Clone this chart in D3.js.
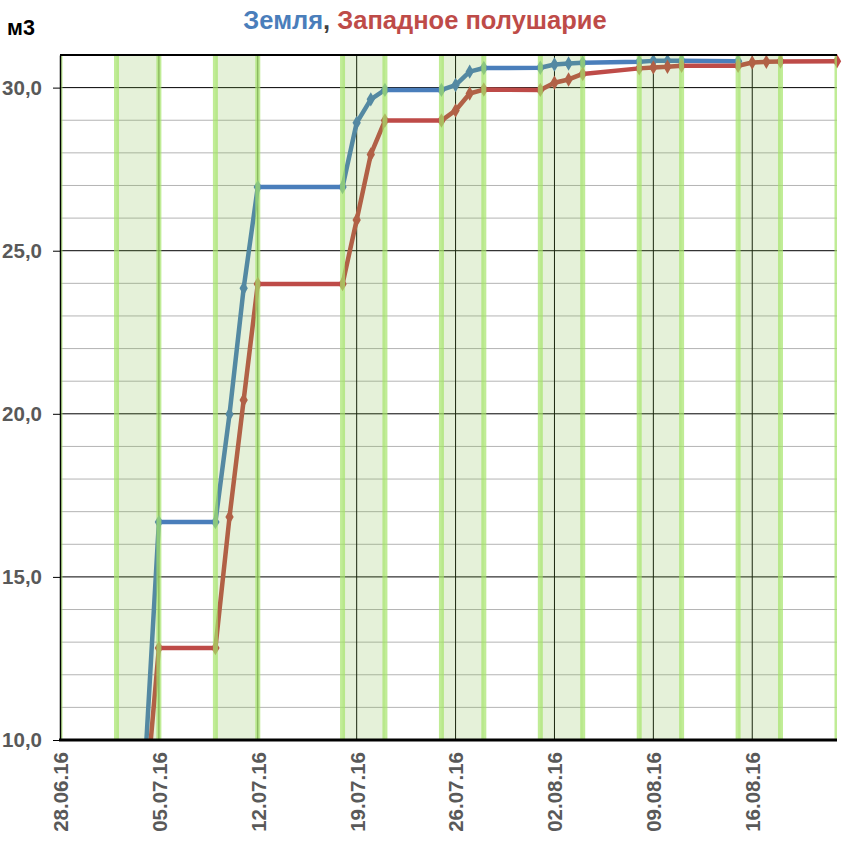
<!DOCTYPE html>
<html lang="ru">
<head>
<meta charset="UTF-8">
<title>Земля, Западное полушарие</title>
<script src="https://d3js.org/d3.v7.min.js"></script>
<style>
  body { margin: 0; background: #fff; }
  svg { display: block; font-family: "Liberation Sans", Arial, sans-serif; }
  .tick text { font-weight: bold; fill: #595959; }
</style>
</head>
<body>
<svg id="chart" width="845" height="844"></svg>
<script>
// data
const dates = ["04.07.16","05.07.16","09.07.16","10.07.16","11.07.16","12.07.16",
  "18.07.16","19.07.16","20.07.16","21.07.16","25.07.16","26.07.16","27.07.16","28.07.16",
  "01.08.16","02.08.16","03.08.16","04.08.16","08.08.16","09.08.16","10.08.16","11.08.16",
  "15.08.16","16.08.16","17.08.16","18.08.16","22.08.16"];
const earth = [9.1,16.68,16.68,19.99,23.85,26.95,
  26.95,28.92,29.64,29.93,29.93,30.08,30.49,30.6,
  30.61,30.71,30.74,30.76,30.79,30.82,30.82,30.82,
  30.81,null,null,null,null];
const west = [7.9,12.82,12.82,16.84,20.42,23.98,
  23.98,25.94,27.95,28.99,28.99,29.3,29.82,29.94,
  29.93,30.15,30.25,30.42,30.59,30.62,30.64,30.67,
  30.67,30.77,30.79,30.8,30.81];
const bandStart = ["25.06.16","02.07.16","09.07.16","18.07.16","25.07.16","01.08.16","08.08.16","15.08.16","22.08.16"];
const bandEnd   = ["28.06.16","05.07.16","12.07.16","21.07.16","28.07.16","04.08.16","11.08.16","18.08.16","25.08.16"];
const xTicks = ["28.06.16","05.07.16","12.07.16","19.07.16","26.07.16","02.08.16","09.08.16","16.08.16"];
const yTicks = [10, 15, 20, 25, 30];

const parse = d3.timeParse("%d.%m.%y");
const svg = d3.select("#chart");
const pL = 60, pR = 837, pT = 55, pB = 740;

const x = d3.scaleTime()
  .domain([parse("28.06.16"), parse("22.08.16")])
  .range([pL, pR]);
const y = d3.scaleLinear().domain([10, 31]).range([pB, pT]);

const comma = d3.formatLocale({decimal: ",", thousands: " ", grouping: [3], currency: ["", ""]}).format(".1f");

svg.append("defs").append("clipPath").attr("id", "plot")
  .append("rect").attr("x", pL).attr("y", pT).attr("width", pR - pL).attr("height", pB - pT);

// grid
const grid = svg.append("g");
grid.selectAll("line.minor")
  .data(d3.range(11, 32).filter(v => v % 5 !== 0))
  .join("line")
  .attr("x1", pL).attr("x2", pR)
  .attr("y1", d => y(d)).attr("y2", d => y(d))
  .attr("stroke", "#b4b4b4").attr("stroke-width", 1);
grid.selectAll("line.major")
  .data(yTicks.slice(1))
  .join("line")
  .attr("x1", pL).attr("x2", pR)
  .attr("y1", d => y(d)).attr("y2", d => y(d))
  .attr("stroke", "#000").attr("stroke-width", 1);
grid.selectAll("line.vert")
  .data(xTicks.slice(1))
  .join("line")
  .attr("x1", d => x(parse(d))).attr("x2", d => x(parse(d)))
  .attr("y1", pT).attr("y2", pB)
  .attr("stroke", "#000").attr("stroke-width", 1);

// series
const plot = svg.append("g").attr("clip-path", "url(#plot)");
const marks = svg.append("g");
const series = [
  {values: earth, color: "#4a7ebb"},
  {values: west, color: "#be4b48"}
];
const line = d3.line()
  .defined(d => d.v != null)
  .x(d => x(d.date)).y(d => y(d.v));
const diamond = d3.symbol().type(d3.symbolDiamond).size(60);

series.forEach(s => {
  const pts = dates.map((d, i) => ({date: parse(d), v: s.values[i]}));
  plot.append("path")
    .datum(pts)
    .attr("d", line)
    .attr("fill", "none")
    .attr("stroke", s.color)
    .attr("stroke-width", 4.5)
    .attr("stroke-linejoin", "round");
  marks.selectAll(null)
    .data(pts.filter(p => p.v != null && p.v >= 10))
    .join("path")
    .attr("d", diamond)
    .attr("transform", p => `translate(${x(p.date)},${y(p.v)})`)
    .attr("fill", s.color);
});

// green bands on top of lines
const bands = svg.append("g").attr("clip-path", "url(#plot)");
const bandData = bandStart.map((d, i) => ({x0: x(parse(d)), x1: x(parse(bandEnd[i]))}));
bands.selectAll("rect")
  .data(bandData)
  .join("rect")
  .attr("x", d => d.x0).attr("width", d => d.x1 - d.x0)
  .attr("y", pT).attr("height", pB - pT)
  .attr("fill", "rgba(125,185,65,0.2)");
bands.selectAll("line")
  .data(bandData.flatMap(d => [d.x0, d.x1]))
  .join("line")
  .attr("x1", d => d).attr("x2", d => d)
  .attr("y1", pT).attr("y2", pB)
  .attr("stroke", "rgba(165,228,105,0.7)")
  .attr("stroke-width", 5);

// axes
const yAxis = svg.append("g")
  .attr("transform", `translate(${pL},0)`)
  .call(d3.axisLeft(y).tickValues(yTicks).tickSize(7).tickSizeOuter(0).tickFormat(comma).tickPadding(11));
yAxis.select(".domain").attr("stroke", "#000").attr("stroke-width", 1.5);
yAxis.selectAll(".tick line").attr("stroke", "#000");
yAxis.selectAll(".tick text").style("font-size", "20.5px");

const xAxis = svg.append("g")
  .attr("transform", `translate(0,${pB})`)
  .call(d3.axisBottom(x).tickValues(xTicks.map(parse)).tickSize(0).tickFormat(d3.timeFormat("%d.%m.%y")));
xAxis.select(".domain").remove();
xAxis.selectAll(".tick text")
  .style("font-size", "20.5px")
  .attr("text-anchor", "end")
  .attr("transform", "translate(0,12) rotate(-90)")
  .attr("x", 0).attr("y", 0).attr("dy", "0.36em");

svg.append("line")
  .attr("x1", pL - 1).attr("x2", pR)
  .attr("y1", pB).attr("y2", pB)
  .attr("stroke", "#000").attr("stroke-width", 3);
svg.append("line")
  .attr("x1", pL).attr("x2", pR)
  .attr("y1", pT).attr("y2", pT)
  .attr("stroke", "#000").attr("stroke-width", 2);

// titles
const title = svg.append("text")
  .attr("x", 425).attr("y", 28.5)
  .attr("text-anchor", "middle")
  .style("font-size", "25.5px").style("font-weight", "bold");
title.append("tspan").attr("fill", "#4a7ebb").text("Земля");
title.append("tspan").attr("fill", "#404040").text(", ");
title.append("tspan").attr("fill", "#be4b48").text("Западное полушарие");

svg.append("text")
  .attr("x", 7).attr("y", 35)
  .style("font-size", "21.5px").style("font-weight", "bold")
  .attr("fill", "#000")
  .text("м3");
</script>
</body>
</html>
